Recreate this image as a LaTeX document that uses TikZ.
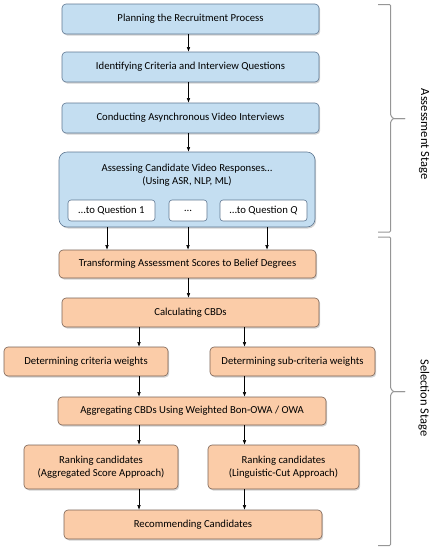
\documentclass[tikz,border=0pt]{standalone}
\usepackage{fontspec}
\setmainfont{Carlito}
\usetikzlibrary{arrows.meta,shadows}

\definecolor{bluefill}{RGB}{196,222,241}
\definecolor{blueline}{RGB}{96,120,146}
\definecolor{orangefill}{RGB}{251,204,168}
\definecolor{orangeline}{RGB}{122,98,84}
\definecolor{bracegray}{RGB}{150,150,150}

\begin{document}
\begin{tikzpicture}[x=1pt,y=-1pt,font=\fontsize{10.7}{13}\selectfont]
\tikzstyle{stage box} = [draw, line width=0.6pt, rounded corners=4pt, inner sep=0pt,
    drop shadow={shadow xshift=1.2pt, shadow yshift=-1.5pt, opacity=0.35}]
\tikzstyle{blue box} = [stage box, fill=bluefill, draw=blueline]
\tikzstyle{orange box} = [stage box, fill=orangefill, draw=orangeline]
\tikzstyle{answer box} = [draw=blueline, fill=white, line width=0.6pt, rounded corners=3pt,
    minimum height=21pt, inner sep=0pt]
\tikzstyle{arr} = [-{Latex[length=4.5pt,width=3.5pt]}, line width=0.5pt]
\tikzstyle{stage brace} = [bracegray, line width=1pt, rounded corners=1pt]
\tikzstyle{stage label} = [rotate=-90, font=\fontsize{12.5}{15}\selectfont]
\useasboundingbox (0,0) rectangle (437,550);

% columns for the connectors
\coordinate (M) at (188.5,0);
\coordinate (L) at (139,0);
\coordinate (R) at (244.5,0);
\coordinate (Q1) at (107,0);
\coordinate (Q3) at (267,0);

% assessment stage
\node[blue box, minimum width=257pt, minimum height=30pt] (plan) at (190.5,19) {Planning the Recruitment Process};
\node[blue box, minimum width=257pt, minimum height=30pt] (criteria) at (190.5,67) {Identifying Criteria and Interview Questions};
\node[blue box, minimum width=257pt, minimum height=30pt] (interview) at (190.5,118) {Conducting Asynchronous Video Interviews};
\node[blue box, rounded corners=8pt, minimum width=256pt, minimum height=75pt] (assess) at (187,189.5) {};
\node[align=center] (assesstxt) at (187,175.5) {Assessing Candidate Video Responses\dots\\(Using ASR, NLP, ML)};
\node[answer box, minimum width=87pt] (q1) at (111.5,210.5) {\dots to Question 1};
\node[answer box, minimum width=38pt] (q2) at (188,210.5) {\dots};
\node[answer box, minimum width=87pt] (q3) at (263.5,210.5) {\dots to Question \textit{Q}};

% selection stage
\node[orange box, minimum width=257pt, minimum height=28pt] (transform) at (187.5,264) {Transforming Assessment Scores to Belief Degrees};
\node[orange box, minimum width=257pt, minimum height=29pt] (cbd) at (190.5,312.5) {Calculating CBDs};
\node[orange box, minimum width=164pt, minimum height=29pt] (cw) at (86,361.5) {Determining criteria weights};
\node[orange box, minimum width=165pt, minimum height=29pt] (scw) at (292.5,361.5) {Determining sub-criteria weights};
\node[orange box, minimum width=268pt, minimum height=28pt] (aggr) at (192,411) {Aggregating CBDs Using Weighted Bon-OWA / OWA};
\node[orange box, align=center, minimum width=154pt, minimum height=44pt] (rankA) at (101,467) {Ranking candidates\\(Aggregated Score Approach)};
\node[orange box, align=center, minimum width=151pt, minimum height=44pt] (rankL) at (283.5,467) {Ranking candidates\\(Linguistic-Cut Approach)};
\node[orange box, minimum width=258pt, minimum height=29pt] (recommend) at (193,524.5) {Recommending Candidates};

% connectors
\draw[arr] (plan.south -| M) -- (criteria.north -| M);
\draw[arr] (criteria.south -| M) -- (interview.north -| M);
\draw[arr] (interview.south -| M) -- (assess.north -| M);
\draw[arr] (assess.south -| Q1) -- (transform.north -| Q1);
\draw[arr] (assess.south -| q2) -- (transform.north -| q2);
\draw[arr] (assess.south -| Q3) -- (transform.north -| Q3);
\draw[arr] (transform.south -| M) -- (cbd.north -| M);
\draw[arr] (cbd.south -| L) -- (cw.north -| L);
\draw[arr] (cbd.south -| R) -- (scw.north -| R);
\draw[arr] (cw.south -| L) -- (aggr.north -| L);
\draw[arr] (scw.south -| R) -- (aggr.north -| R);
\draw[arr] (aggr.south -| L) -- (rankA.north -| L);
\draw[arr] (aggr.south -| R) -- (rankL.north -| R);
\draw[arr] (rankA.south -| L) -- (recommend.north -| L);
\draw[arr] (rankL.south -| R) -- (recommend.north -| R);

% braces
\draw[stage brace] (378,4.5) -- (390.5,4.5) -- (390.5,115) -- (393,118.5) -- (405,118.5);
\draw[stage brace] (405,118.5) -- (393,118.5) -- (390.5,122) -- (390.5,232) -- (378,232);
\draw[stage brace] (378,237) -- (390.5,237) -- (390.5,388) -- (393,391.5) -- (405,391.5);
\draw[stage brace] (405,391.5) -- (393,391.5) -- (390.5,395) -- (390.5,545.5) -- (378,545.5);
\node[stage label] (assesslbl) at (424,134) {Assessment Stage};
\node[stage label] (selectlbl) at (424,398) {Selection Stage};
\end{tikzpicture}
\end{document}
